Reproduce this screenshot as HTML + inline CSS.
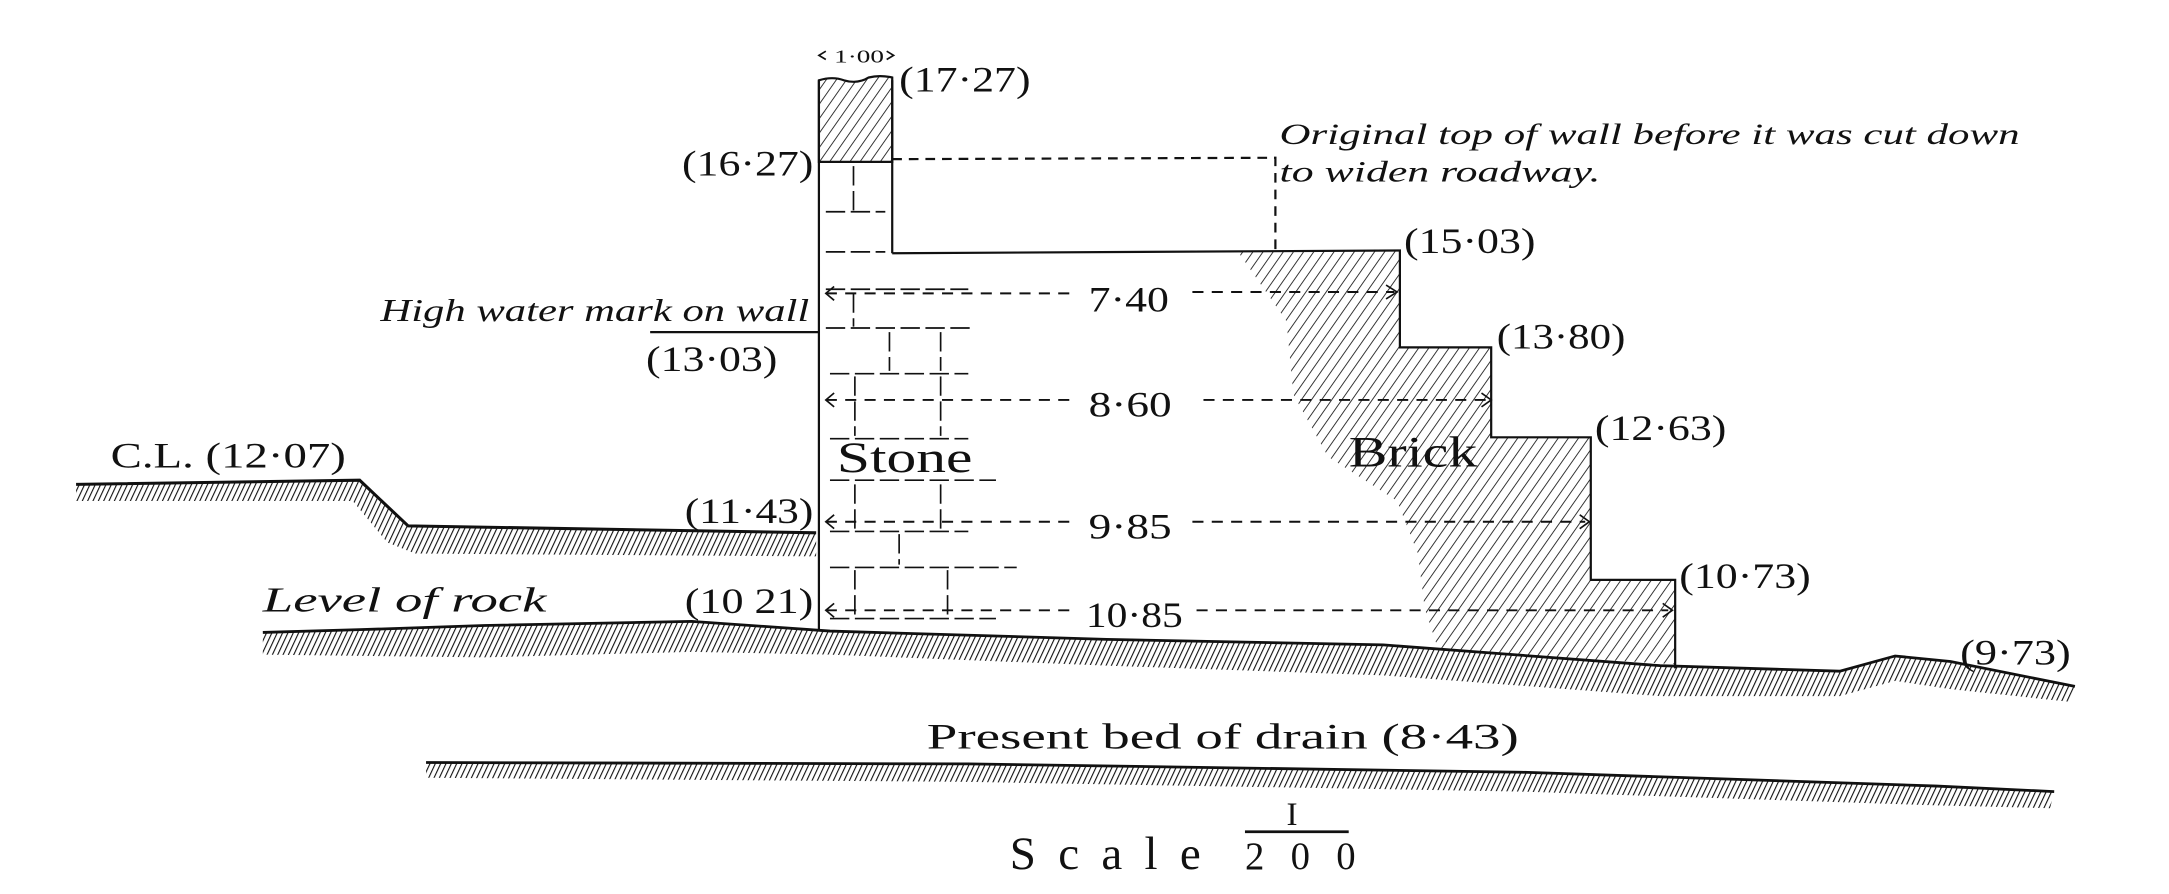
<!DOCTYPE html>
<html><head><meta charset="utf-8"><style>
html,body{margin:0;padding:0;background:#fff;}
svg{display:block;}
text{font-family:"Liberation Serif",serif;fill:#111;}
.it{font-style:italic;}
</style></head><body>
<svg width="2169" height="894" viewBox="0 0 1568 646" preserveAspectRatio="none" xmlns="http://www.w3.org/2000/svg">
<defs>
<pattern id="h" width="6" height="6" patternUnits="userSpaceOnUse" patternTransform="rotate(35)">
<line x1="0" y1="0" x2="0" y2="6" stroke="#222" stroke-width="1.3"/></pattern>
<pattern id="g" width="3.5" height="4" patternUnits="userSpaceOnUse" patternTransform="rotate(25)">
<line x1="0" y1="0" x2="0" y2="4" stroke="#111" stroke-width="1.6"/></pattern>
</defs>
<g stroke="#111" fill="none" stroke-width="1.6">
<path d="M592,58 q10,-3 18,0 q10,3 18,-2 q8,-2 17,0 L645,117 L592,117 Z" fill="url(#h)"/>
<line x1="592" y1="58" x2="592" y2="455"/>
<line x1="645" y1="58" x2="645" y2="183"/>
<path d="M645,115 L922,114 L922,180" stroke-dasharray="7,5"/>
<path d="M895,182 L1012,181 L1012,251 L1078,251 L1078,316 L1150,316 L1150,419 L1211,419 L1211,480 L1040,470 L1030,440 L1025,400 L1010,362 L960,330 L935,285 L930,232 Z" fill="url(#h)" stroke="none"/>
<path d="M645,183 L1012,181 L1012,251 L1078,251 L1078,316 L1150,316 L1150,419 L1211,419 L1211,483"/>
<g stroke-width="1.2" stroke-dasharray="14,4">
<line x1="597" y1="153" x2="640" y2="153"/><line x1="597" y1="182" x2="640" y2="182"/>
<line x1="597" y1="209" x2="700" y2="209"/><line x1="597" y1="237" x2="705" y2="237"/>
<line x1="600" y1="270" x2="700" y2="270"/><line x1="600" y1="317" x2="700" y2="317"/>
<line x1="600" y1="347" x2="720" y2="347"/><line x1="600" y1="384" x2="700" y2="384"/>
<line x1="600" y1="410" x2="735" y2="410"/><line x1="600" y1="447" x2="720" y2="447"/>
<line x1="617" y1="120" x2="617" y2="152"/><line x1="617" y1="212" x2="617" y2="236"/>
<line x1="643" y1="240" x2="643" y2="268"/><line x1="680" y1="240" x2="680" y2="268"/>
<line x1="618" y1="272" x2="618" y2="315"/><line x1="680" y1="272" x2="680" y2="315"/>
<line x1="618" y1="350" x2="618" y2="382"/><line x1="680" y1="350" x2="680" y2="382"/>
<line x1="650" y1="386" x2="650" y2="408"/><line x1="618" y1="412" x2="618" y2="445"/><line x1="685" y1="412" x2="685" y2="445"/>
</g>
<g stroke-dasharray="8,6" stroke-width="1.4">
<line x1="597" y1="212" x2="775" y2="212"/><line x1="862" y1="211" x2="1008" y2="211"/>
<line x1="597" y1="289" x2="775" y2="289"/><line x1="870" y1="289" x2="1075" y2="289"/>
<line x1="597" y1="377" x2="775" y2="377"/><line x1="862" y1="377" x2="1146" y2="377"/>
<line x1="597" y1="441" x2="775" y2="441"/><line x1="865" y1="441" x2="1206" y2="441"/>
</g>
<g stroke-width="1.2">
<path d="M603,207 L597,212 L603,217"/><path d="M1002,206 L1010,211 L1002,216"/>
<path d="M603,284 L597,289 L603,294"/><path d="M1071,284 L1078,289 L1071,294"/>
<path d="M603,372 L597,377 L603,382"/><path d="M1142,372 L1149,377 L1142,382"/>
<path d="M603,436 L597,441 L603,446"/><path d="M1202,436 L1209,441 L1202,446"/>
<path d="M597,37 L592,40 L597,43"/><path d="M641,37 L646,40 L641,43"/>
</g>
<line x1="470" y1="240" x2="592" y2="240"/>
<path d="M55,350 L260,347 L295,380 L590,385 L590,402 L300,400 L280,392 L255,362 L55,362 Z" fill="url(#g)" stroke="none"/>
<path d="M55,350 L260,347 L295,380 L590,385" stroke-width="2.2"/>
<path d="M190,457 L260,455 L350,452 L500,449 L600,456 L800,462 L1000,466 L1200,481 L1330,485 L1370,474 L1410,478 L1500,496 L1495,507 L1410,498 L1370,492 L1330,503 L1200,503 L1000,488 L800,481 L600,473 L500,471 L350,475 L190,473 Z" fill="url(#g)" stroke="none"/>
<path d="M190,457 L260,455 L350,452 L500,449 L600,456 L800,462 L1000,466 L1200,481 L1330,485 L1370,474 L1410,478 L1500,496" stroke-width="2"/>
<path d="M308,551 L700,552 L1100,558 L1400,568 L1485,572 L1482,584 L1400,582 L1100,572 L700,565 L308,562 Z" fill="url(#g)" stroke="none"/>
<path d="M308,551 L700,552 L1100,558 L1400,568 L1485,572" stroke-width="2"/>
<line x1="900" y1="601" x2="975" y2="601" stroke-width="2"/>
</g>
<g font-size="26">
<text x="603" y="45" font-size="13" textLength="36" lengthAdjust="spacingAndGlyphs">1·00</text>
<text x="650" y="66" textLength="95" lengthAdjust="spacingAndGlyphs">(17·27)</text>
<text x="493" y="127" textLength="95" lengthAdjust="spacingAndGlyphs">(16·27)</text>
<text x="1015" y="183" textLength="95" lengthAdjust="spacingAndGlyphs">(15·03)</text>
<text x="1082" y="252" textLength="93" lengthAdjust="spacingAndGlyphs">(13·80)</text>
<text x="1153" y="318" textLength="95" lengthAdjust="spacingAndGlyphs">(12·63)</text>
<text x="1214" y="425" textLength="95" lengthAdjust="spacingAndGlyphs">(10·73)</text>
<text x="1417" y="480" textLength="80" lengthAdjust="spacingAndGlyphs">(9·73)</text>
<text x="467" y="268" textLength="95" lengthAdjust="spacingAndGlyphs">(13·03)</text>
<text x="495" y="378" textLength="93" lengthAdjust="spacingAndGlyphs">(11·43)</text>
<text x="495" y="443" textLength="93" lengthAdjust="spacingAndGlyphs">(10 21)</text>
<text x="80" y="338" textLength="170" lengthAdjust="spacingAndGlyphs">C.L. (12·07)</text>
<text x="787" y="225" textLength="58" lengthAdjust="spacingAndGlyphs">7·40</text>
<text x="787" y="301" textLength="60" lengthAdjust="spacingAndGlyphs">8·60</text>
<text x="787" y="389" textLength="60" lengthAdjust="spacingAndGlyphs">9·85</text>
<text x="785" y="453" textLength="70" lengthAdjust="spacingAndGlyphs">10·85</text>
<text x="670" y="541" textLength="428" lengthAdjust="spacingAndGlyphs">Present bed of drain  (8·43)</text>
</g>
<text x="605" y="341" font-size="31" textLength="98" lengthAdjust="spacingAndGlyphs">Stone</text>
<text x="975" y="337" font-size="31" textLength="93" lengthAdjust="spacingAndGlyphs">Brick</text>
<text class="it" x="275" y="232" font-size="23" textLength="310" lengthAdjust="spacingAndGlyphs">High water mark on wall</text>
<text class="it" x="190" y="442" font-size="25" textLength="205" lengthAdjust="spacingAndGlyphs">Level  of  rock</text>
<text class="it" x="925" y="104" font-size="21" textLength="535" lengthAdjust="spacingAndGlyphs">Original top of wall before it was cut down</text>
<text class="it" x="925" y="131" font-size="21" textLength="232" lengthAdjust="spacingAndGlyphs">to widen roadway.</text>
<text x="730" y="628" font-size="34" textLength="138" lengthAdjust="spacing">Scale</text>
<text x="930" y="596" font-size="24">I</text>
<text x="900" y="628" font-size="28" textLength="80" lengthAdjust="spacing">200</text>
</svg>
</body></html>
